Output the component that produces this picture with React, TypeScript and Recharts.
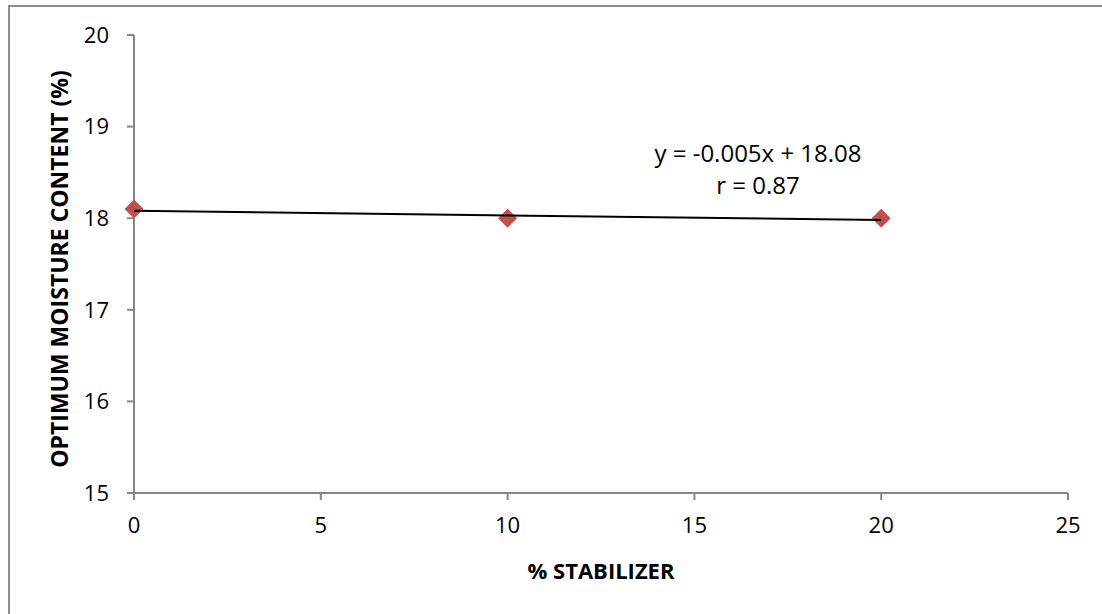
import React from "react";
import {
  ScatterChart,
  Scatter,
  XAxis,
  YAxis,
  Customized,
} from "recharts";

const stabilizer = [0, 10, 20];
const moisture = [18.1, 18.0, 18.0];
const xTicks = [0, 5, 10, 15, 20, 25];
const yTicks = [15, 16, 17, 18, 19, 20];
const trendSlope = -0.005;
const trendIntercept = 18.08;
const trendRange = [0, 20];
const equationText = "y = -0.005x + 18.08";
const rText = "r = 0.87";
const xTitle = "% STABILIZER";
const yTitle = "OPTIMUM MOISTURE CONTENT (%)";

const data = stabilizer.map((x, i) => ({ x, y: moisture[i] }));
const trendSegment = trendRange.map((x) => ({ x, y: trendSlope * x + trendIntercept }));

const FONT = "'Open Sans', sans-serif";
const AXIS_COLOR = "#868686";
const MARKER = "#C0504D";

const Diamond = (props: any) => {
  const { cx, cy } = props;
  const r = 9.5;
  return (
    <polygon
      points={`${cx},${cy - r} ${cx + r},${cy} ${cx},${cy + r} ${cx - r},${cy}`}
      fill={MARKER}
    />
  );
};

const NoShape = () => <g />;

const Annotations = () => {
  return (
    <g fontFamily={FONT}>
      <text x={750} y={157} textAnchor="middle" fontSize={24} fill="#000">
        {equationText}
      </text>
      <text x={750} y={189} textAnchor="middle" fontSize={24} fill="#000">
        {rText}
      </text>
      <text x={593} y={574} textAnchor="middle" fontSize={22} fontWeight="bold" fill="#000">
        {xTitle}
      </text>
      <text
        x={0}
        y={0}
        transform={`translate(51, 264) rotate(-90)`}
        textAnchor="middle"
        dominantBaseline="central"
        fontSize={23}
        fontWeight="bold"
        fill="#000"
      >
        {yTitle}
      </text>
    </g>
  );
};

export default function App() {
  return (
    <div
      style={{
        position: "absolute",
        left: 8,
        top: 5,
        width: 1094,
        height: 609,
        background: "#fff",
      }}
    >
      <ScatterChart
        width={1094}
        height={609}
        margin={{ top: 30, right: 34, bottom: 91, left: 66 }}
      >
        <XAxis
          type="number"
          dataKey="x"
          domain={[0, 25]}
          ticks={xTicks}
          tickSize={7}
          tickMargin={17}
          axisLine={{ stroke: AXIS_COLOR, strokeWidth: 2 }}
          tickLine={{ stroke: AXIS_COLOR, strokeWidth: 2 }}
          tick={{ fill: "#000", fontSize: 22, fontFamily: FONT }}
          height={30}
        />
        <YAxis
          type="number"
          dataKey="y"
          domain={[15, 20]}
          ticks={yTicks}
          tickSize={7}
          tickMargin={18}
          axisLine={{ stroke: AXIS_COLOR, strokeWidth: 2 }}
          tickLine={{ stroke: AXIS_COLOR, strokeWidth: 2 }}
          tick={{ fill: "#000", fontSize: 22, fontFamily: FONT }}
          width={60}
        />
        <Scatter
          data={data}
          shape={<Diamond />}
          fill={MARKER}
          isAnimationActive={false}
        />
        <Scatter
          data={trendSegment}
          line={{ stroke: "#000", strokeWidth: 2 }}
          lineType="joint"
          shape={<NoShape />}
          fill="#000"
          isAnimationActive={false}
        />
        <Customized component={Annotations} />
      </ScatterChart>
      <div
        style={{
          position: "absolute",
          left: 0,
          top: 0,
          width: 1094,
          height: 609,
          borderTop: "2px solid #8c8c8c",
          borderLeft: "2px solid #8c8c8c",
          boxSizing: "border-box",
          pointerEvents: "none",
          zIndex: 2,
        }}
      />
    </div>
  );
}
